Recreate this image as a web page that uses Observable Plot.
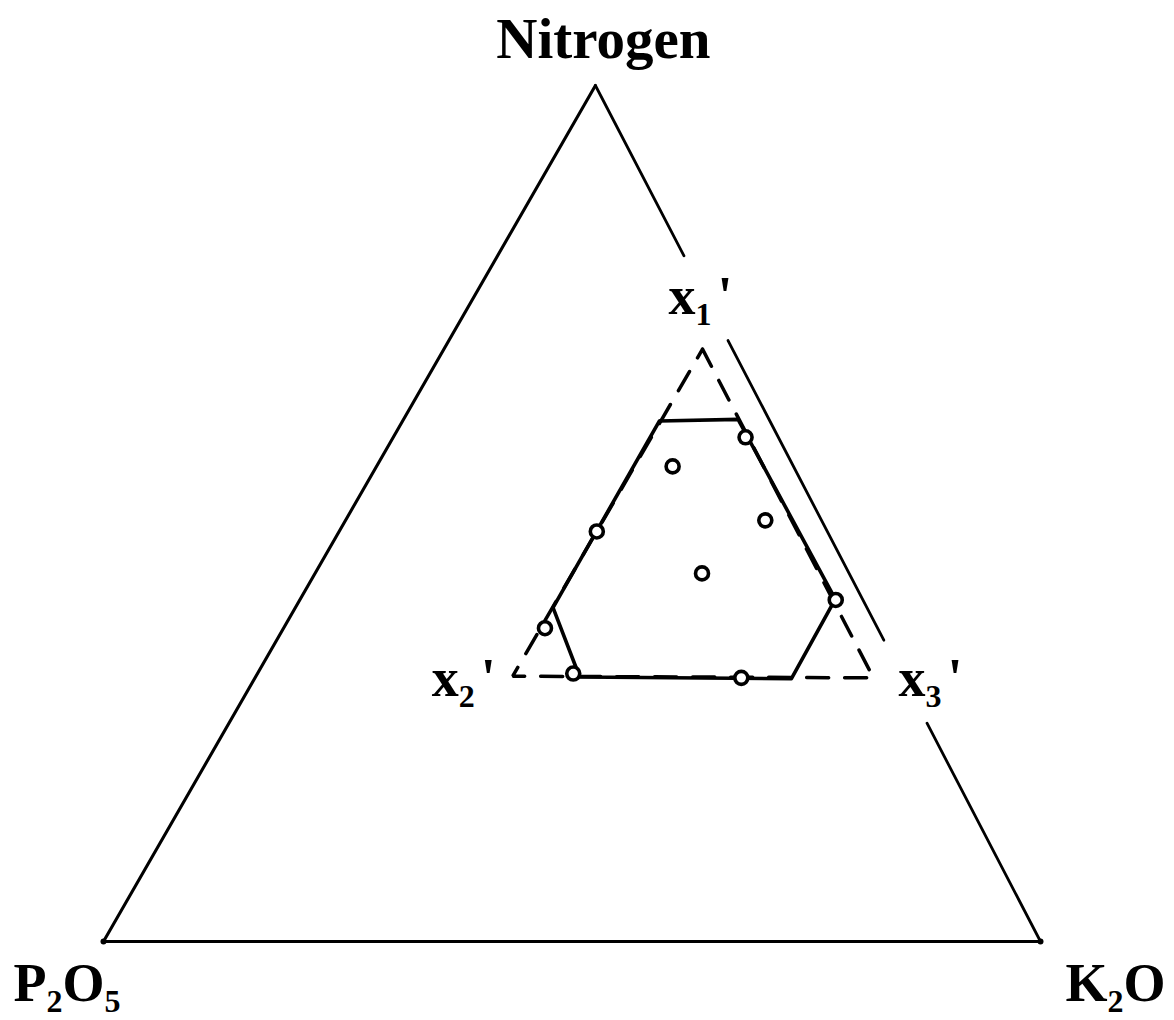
<!DOCTYPE html>
<html>
<head>
<meta charset="utf-8">
<script src="https://cdn.jsdelivr.net/npm/d3@7"></script>
<script src="https://cdn.jsdelivr.net/npm/@observablehq/plot@0.6"></script>
<style>
  body { margin: 0; background: #fff; }
  svg { display: block; }
</style>
</head>
<body>
<script>
// Ternary diagram of N – P2O5 – K2O fertilizer mixtures.
// Every composition is given as fractions (N, P2O5, K2O) that sum to 1.

// Corners of the full simplex
const cornerLabels = ["Nitrogen", "P_2O_5", "K_2O"];
const cornerN = [1, 0, 0];
const cornerP = [0, 1, 0];
const cornerK = [0, 0, 1];

// Pseudo-component simplex x1', x2', x3' (set by the lower bounds)
const pseudoLabels = ["x_1'", "x_2'", "x_3'"];
const pseudoN = [0.692, 0.310, 0.308];
const pseudoP = [0.032, 0.416, 0.032];
const pseudoK = [0.276, 0.274, 0.660];

// Constrained experimental region (hexagon), vertices in order
const regionN = [0.608, 0.610, 0.400, 0.307, 0.309, 0.390];
const regionP = [0.118, 0.033, 0.029, 0.120, 0.345, 0.335];
const regionK = [0.274, 0.357, 0.571, 0.573, 0.346, 0.275];

// Design points
const pointN = [0.589, 0.555, 0.492, 0.479, 0.430, 0.399, 0.366, 0.313, 0.308];
const pointP = [0.035, 0.129, 0.060, 0.246, 0.157, 0.029, 0.355, 0.350, 0.173];
const pointK = [0.376, 0.316, 0.448, 0.275, 0.413, 0.572, 0.279, 0.337, 0.519];

// The N – K2O edge is drawn in pieces, leaving room for the labels (ranges of N)
const edgeFrom = [1.00, 0.702, 0.255];
const edgeTo   = [0.801, 0.352, 0.000];

// Ternary → plane: P2O5 corner at (0,0), K2O at (1,0), Nitrogen at (apex,1)
const apex = 0.525;
const tx = (n, p, k) => k + n * apex;
const ty = (n, p, k) => n;

const rows = (N, P, K, extra = {}) =>
  N.map((n, i) => ({n, p: P[i], k: K[i], x: tx(n, P[i], K[i]), y: ty(n, P[i], K[i]),
    ...Object.fromEntries(Object.entries(extra).map(([key, arr]) => [key, arr[i]]))}));

const corners = rows(cornerN, cornerP, cornerK, {label: cornerLabels});
const pseudo = rows(pseudoN, pseudoP, pseudoK, {label: pseudoLabels});
const region = rows(regionN, regionP, regionK);
const points = rows(pointN, pointP, pointK);
const edges = edgeFrom.map((a, i) => ({
  x1: tx(a, 0, 1 - a), y1: ty(a, 0, 1 - a),
  x2: tx(edgeTo[i], 0, 1 - edgeTo[i]), y2: ty(edgeTo[i], 0, 1 - edgeTo[i])
}));

const outline = [corners[0], corners[1], corners[2]];
const closed = (arr) => [...arr, arr[0]];

const ink = "#000";
const serif = "'Liberation Serif', 'Times New Roman', Times, serif";
const labelStyle = {x: "x", y: "y", text: "label", lineAnchor: "bottom",
  fontWeight: "bold", fontFamily: serif, fill: ink};

const chart = Plot.plot({
  width: 1174,
  height: 1020,
  marginLeft: 103,
  marginRight: 134,
  marginTop: 85,
  marginBottom: 79,
  x: {domain: [0, 1], axis: null},
  y: {domain: [0, 1], axis: null},
  style: {background: "#fff", overflow: "visible"},
  marks: [
    // outer simplex: left side and base, then the broken right side
    Plot.line(outline, {x: "x", y: "y", stroke: ink, strokeWidth: 3.1, strokeLinejoin: "round", strokeLinecap: "round"}),
    Plot.link(edges, {x1: "x1", y1: "y1", x2: "x2", y2: "y2", stroke: ink, strokeWidth: 2.8, strokeLinecap: "round"}),
    Plot.dot([corners[1], corners[2]], {x: "x", y: "y", r: 3, fill: ink}),
    // pseudo-component simplex, dashed
    Plot.line(closed(pseudo), {x: "x", y: "y", stroke: ink, strokeWidth: 3.5, strokeDasharray: "22,16", strokeDashoffset: 12, strokeLinejoin: "miter"}),
    // constrained region
    Plot.line(closed(region), {x: "x", y: "y", stroke: ink, strokeWidth: 3.6, strokeLinejoin: "round"}),
    // design points
    Plot.dot(points, {x: "x", y: "y", r: 6.5, stroke: ink, strokeWidth: 3.6, fill: "#fff"}),
    // corner labels
    Plot.text([corners[0]], {...labelStyle, dx: 8, dy: -28, textAnchor: "middle", fontSize: 57}),
    Plot.text([corners[1]], {...labelStyle, dx: -90, dy: 59, textAnchor: "start", fontSize: 54}),
    Plot.text([corners[2]], {...labelStyle, dx: 25, dy: 59, textAnchor: "start", fontSize: 54}),
    // pseudo-component labels
    Plot.text([pseudo[0]], {...labelStyle, dx: -34, dy: -35, textAnchor: "start", fontSize: 54}),
    Plot.text([pseudo[1]], {...labelStyle, dx: -81, dy: 20, textAnchor: "start", fontSize: 54}),
    Plot.text([pseudo[2]], {...labelStyle, dx: 25, dy: 18, textAnchor: "start", fontSize: 54})
  ]
});

// Turn "_c" into a lowered, smaller subscript character, and space out primes.
function typeset(el) {
  const str = el.textContent;
  if (!/[_']/.test(str)) return;
  const g = el.closest("[font-size]");
  const size = g ? parseFloat(g.getAttribute("font-size")) : 54;
  const subSize = Math.round(size * 0.6);
  const shift = Math.round(size * 0.2);
  el.textContent = "";
  const parts = str.split(/_(.)/);
  let lowered = false;
  parts.forEach((s, i) => {
    if (!s) return;
    const t = document.createElementNS("http://www.w3.org/2000/svg", "tspan");
    t.textContent = s;
    if (i % 2 === 1) {
      t.setAttribute("font-size", subSize);
      if (!lowered) { t.setAttribute("dy", shift); lowered = true; }
    } else {
      if (lowered) { t.setAttribute("dy", -shift); lowered = false; }
      if (s === "'") t.setAttribute("dx", 6);
    }
    el.appendChild(t);
  });
}

chart.querySelectorAll("text").forEach(typeset);
document.body.appendChild(chart);
</script>
</body>
</html>
